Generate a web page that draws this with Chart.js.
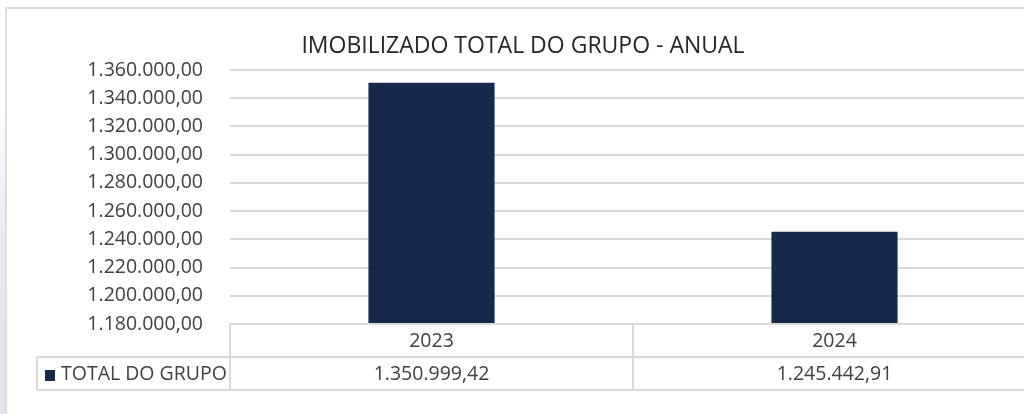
<!DOCTYPE html>
<html>
<head>
<meta charset="utf-8">
<script src="https://cdn.jsdelivr.net/npm/chart.js@4"></script>
<style>
  html, body { margin: 0; padding: 0; background: #fff; overflow: hidden; }
  #wrap { position: relative; width: 1024px; height: 414px; overflow: hidden; }
  #stripe { position: absolute; left: 0; top: 0; width: 5px; height: 414px;
            background: linear-gradient(#ffffff, #ffffff 25%, #e6e6f0 60%, #e4e4ee); }
  #frame { position: absolute; left: 5px; top: 7px; width: 1030px; height: 420px;
           border-top: 2px solid #dcdcdc; border-left: 2px solid #dcdcdc; }
  #box { position: absolute; left: 0; top: 0; width: 1050px; height: 414px; }
</style>
</head>
<body>
<div id="wrap">
  <div id="stripe"></div>
  <div id="frame"></div>
  <div id="box"><canvas id="chart" width="1050" height="414"></canvas></div>
</div>
<script>
var title = 'IMOBILIZADO TOTAL DO GRUPO - ANUAL'
var years = ['2023', '2024']
var seriesName = 'TOTAL DO GRUPO'
var totals = [1350999.42, 1245442.91]
var yMin = 1180000, yMax = 1360000, yStep = 20000

var navy = '#15294b'
var lineGray = '#d9d9d9'
var textGray = '#404040'
var numFmt = new Intl.NumberFormat('pt-BR', { minimumFractionDigits: 2, maximumFractionDigits: 2 })

// title + data table under the plot, drawn from the same arrays
var tablePlugin = {
    id: 'dataTable',
    afterDraw: function(chart) {
        var ctx = chart.ctx, area = chart.chartArea, x = chart.scales.x
        var rowH = 33
        var r1 = area.bottom, r2 = r1 + rowH, r3 = r2 + rowH
        var legLeft = 37
        var half = (x.getPixelForValue(1) - x.getPixelForValue(0)) / 2

        ctx.save()
        ctx.fillStyle = '#262626'
        ctx.font = '23px "Open Sans", sans-serif'
        ctx.textAlign = 'center'
        ctx.textBaseline = 'alphabetic'
        ctx.fillText(title, 523, 53)

        ctx.strokeStyle = lineGray
        ctx.lineWidth = 2
        ctx.beginPath()
        ctx.moveTo(area.left, r1); ctx.lineTo(area.right, r1)
        ctx.moveTo(legLeft, r2); ctx.lineTo(area.right, r2)
        ctx.moveTo(legLeft, r3); ctx.lineTo(area.right, r3)
        ctx.moveTo(legLeft, r2); ctx.lineTo(legLeft, r3)
        ctx.moveTo(area.left, r1); ctx.lineTo(area.left, r3)
        years.forEach(function(y, i) {
            var edge = x.getPixelForValue(i) + half
            ctx.moveTo(edge, r1); ctx.lineTo(edge, r3)
        })
        ctx.stroke()

        ctx.fillStyle = textGray
        ctx.font = '19.5px "Open Sans", sans-serif'
        ctx.textAlign = 'center'
        ctx.textBaseline = 'middle'
        years.forEach(function(y, i) {
            var cx = x.getPixelForValue(i)
            ctx.fillText(y, cx, r1 + rowH / 2 + 1)
            ctx.fillText(numFmt.format(totals[i]), cx, r2 + rowH / 2 + 1)
        })

        ctx.fillStyle = navy
        ctx.fillRect(45, r2 + 13, 10, 11)
        ctx.fillStyle = textGray
        ctx.textAlign = 'left'
        ctx.fillText(seriesName, 61, r2 + rowH / 2 + 1)
        ctx.restore()
    }
}

new Chart(document.getElementById('chart'), {
    type: 'bar',
    data: {
        labels: years,
        datasets: [{
            label: seriesName,
            data: totals,
            backgroundColor: navy,
            borderWidth: 0,
            categoryPercentage: 1,
            barPercentage: 0.313
        }]
    },
    options: {
        responsive: false,
        animation: false,
        layout: { padding: { top: 70, right: 14, bottom: 90, left: 0 } },
        plugins: { legend: { display: false }, tooltip: { enabled: false } },
        scales: {
            x: { display: false },
            y: {
                min: yMin,
                max: yMax,
                afterFit: function(s) { s.width = 230 },
                border: { display: false },
                grid: { color: lineGray, lineWidth: 2, drawTicks: false },
                ticks: {
                    stepSize: yStep,
                    padding: 27,
                    color: textGray,
                    font: { family: '"Open Sans", sans-serif', size: 19.5 },
                    callback: function(v) { return numFmt.format(v) }
                }
            }
        }
    },
    plugins: [tablePlugin]
})
</script>
</body>
</html>
